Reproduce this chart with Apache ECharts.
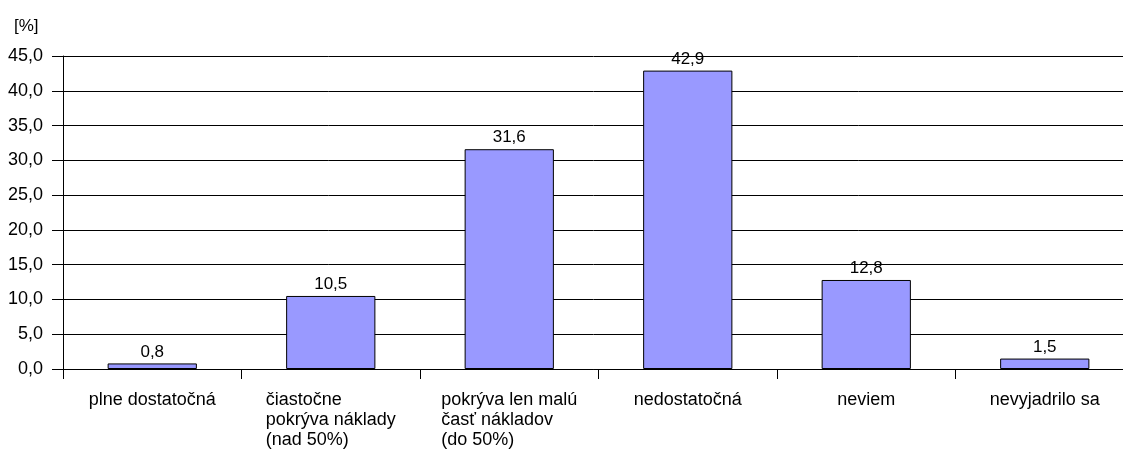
<!DOCTYPE html>
<html>
<head>
<meta charset="utf-8">
<script src="https://cdn.jsdelivr.net/npm/echarts@6/dist/echarts.min.js"></script>
<style>
  html, body { margin: 0; padding: 0; background: #fff; }
  #chart { width: 1123px; height: 450px; }
</style>
</head>
<body>
<div id="chart"></div>
<script>
// Category labels (line breaks as printed under the axis)
const categories = [
  'plne dostatočná',
  'čiastočne\npokrýva náklady\n(nad 50%)',
  'pokrýva len malú\nčasť nákladov\n(do 50%)',
  'nedostatočná',
  'neviem',
  'nevyjadrilo sa'
];
// Share of respondents, percent
const values = [0.8, 10.5, 31.6, 42.9, 12.8, 1.5];
// Value axis range
const yMin = 0;
const yMax = 45;
const yStep = 5;
const unitLabel = '[%]';

const FONT = '"Liberation Sans", Arial, sans-serif';
const fmt = v => Number(v).toFixed(1).replace('.', ',');

const chart = echarts.init(document.getElementById('chart'), null, { renderer: 'canvas' });
chart.setOption({
  animation: false,
  backgroundColor: '#ffffff',
  textStyle: { fontFamily: FONT },
  title: {
    text: unitLabel,
    left: 9,
    top: 13,
    textStyle: { fontFamily: FONT, fontSize: 17, fontWeight: 'normal', color: '#000' }
  },
  grid: {
    left: 63,
    right: -11,
    top: 56,
    bottom: 81,
    containLabel: false,
    outerBoundsMode: 'none'
  },
  xAxis: {
    type: 'category',
    data: categories,
    boundaryGap: true,
    axisLine: { show: true, lineStyle: { color: '#000', width: 1 } },
    axisTick: { show: true, length: 10, lineStyle: { color: '#000' }, alignWithLabel: false },
    splitLine: { show: false },
    axisLabel: {
      interval: 0,
      margin: 21,
      color: '#000',
      fontFamily: FONT,
      fontSize: 18,
      lineHeight: 20,
      formatter: v => v.split('\n').map(s => '{l|' + s + '}').join('\n'),
      rich: {
        l: { align: 'left', fontFamily: FONT, fontSize: 18, lineHeight: 20, color: '#000' }
      }
    }
  },
  yAxis: {
    type: 'value',
    min: yMin,
    max: yMax,
    interval: yStep,
    axisLine: { show: true, lineStyle: { color: '#000', width: 1 } },
    axisTick: { show: true, length: 11, inside: false, lineStyle: { color: '#000' } },
    splitLine: { show: true, lineStyle: { color: '#000', width: 1 } },
    axisLabel: {
      margin: 20,
      color: '#000',
      fontFamily: FONT,
      fontSize: 18,
      formatter: fmt
    }
  },
  series: [{
    type: 'bar',
    data: values,
    barWidth: '50%',
    itemStyle: { color: '#9999FF', borderColor: '#000', borderWidth: 1 },
    label: {
      show: true,
      position: 'top',
      distance: 3,
      color: '#000',
      fontFamily: FONT,
      fontSize: 17,
      formatter: p => fmt(p.value)
    }
  }]
});
</script>
</body>
</html>
